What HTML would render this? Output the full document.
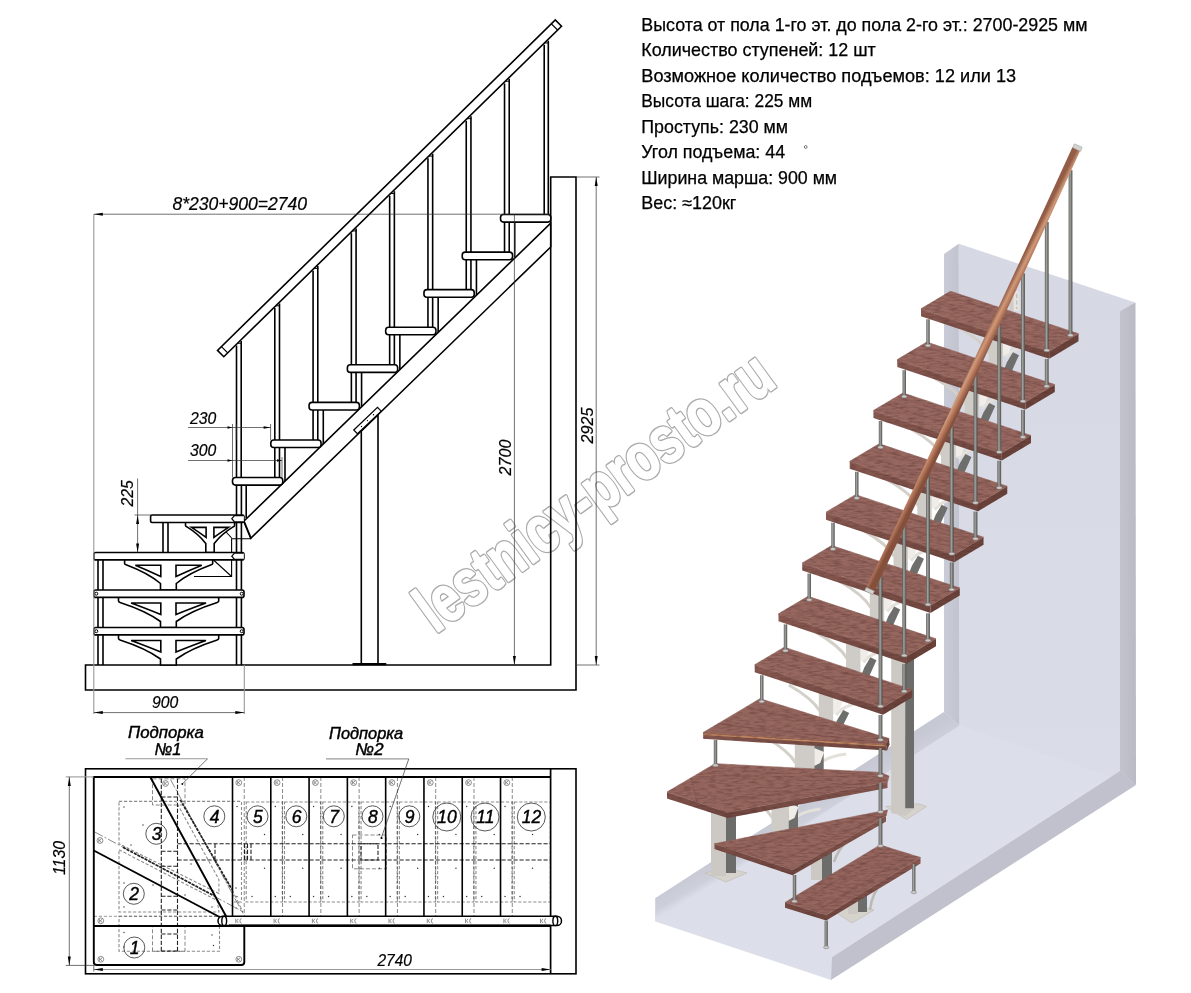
<!DOCTYPE html>
<html lang="ru"><head><meta charset="utf-8"><title>Лестница — чертеж</title>
<style>
html,body{margin:0;padding:0;background:#fff}
body{width:1191px;height:993px;overflow:hidden;font-family:"Liberation Sans",sans-serif}
svg{display:block;opacity:0.999}
.m{stroke:#000;stroke-width:1.6;fill:none;stroke-linejoin:miter;stroke-linecap:butt}
.t{stroke:#333;stroke-width:0.7;fill:none}
.t .g{stroke:#999;stroke-width:1.1}
.gd{stroke:#8c8c8c;stroke-width:1.1;fill:none;stroke-dasharray:3.2 1.8}
.hd{stroke:#3a3a3a;stroke-width:0.6;fill:none;stroke-dasharray:4 2}
.sd{stroke:#222;stroke-width:1.1;fill:none;stroke-dasharray:4.2 1.8}
.pm{stroke:#000;fill:none}
.bolt{stroke:#333;stroke-width:0.55;fill:none}
.num circle{fill:none;stroke:#111;stroke-width:0.7}
.num text{font-family:"Liberation Sans",sans-serif;font-style:italic;font-size:17.5px;fill:#000;stroke:#000;stroke-width:0.4}
.lb{stroke-width:0.45 !important}
.arw polygon,.ar{fill:#000;stroke:none}
.dt text{font-family:"Liberation Sans",sans-serif;font-style:italic;fill:#000;stroke:#000;stroke-width:0.2}
.tb text{font-family:"Liberation Sans",sans-serif;font-size:17.6px;fill:#000;stroke:#000;stroke-width:0.25}
.wm{font-family:"Liberation Sans",sans-serif;font-weight:bold;font-size:66px;stroke-linejoin:round}
.wm1{fill:#ababab;stroke:#ababab;stroke-width:4.3}
.wm2{fill:#fff;stroke:#fff;stroke-width:1.5}
</style></head>
<body>
<svg width="1191" height="993" viewBox="0 0 1191 993">
<rect width="1191" height="993" fill="#fff"/>
<!-- watermark -->
<text class="wm wm1" transform="translate(435.5,634) rotate(-36)" textLength="424" lengthAdjust="spacingAndGlyphs">lestnicy-prosto.ru</text>
<text class="wm wm2" transform="translate(435.5,634) rotate(-36)" textLength="424" lengthAdjust="spacingAndGlyphs">lestnicy-prosto.ru</text>
<!-- render3d -->
<defs>
<linearGradient id="steel" x1="0" x2="1" y1="0" y2="0"><stop offset="0" stop-color="#5c5c5a"/><stop offset="0.4" stop-color="#a2a29f"/><stop offset="0.62" stop-color="#83837f"/><stop offset="1" stop-color="#4a4a48"/></linearGradient>
<linearGradient id="rail" gradientUnits="userSpaceOnUse" x1="968" y1="367" x2="978" y2="372"><stop offset="0" stop-color="#935c47"/><stop offset="0.38" stop-color="#d09a79"/><stop offset="0.65" stop-color="#b5775b"/><stop offset="1" stop-color="#84503c"/></linearGradient>
<linearGradient id="wood" gradientUnits="userSpaceOnUse" x1="700" y1="300" x2="1080" y2="900"><stop offset="0" stop-color="#9a6a62"/><stop offset="0.5" stop-color="#96675f"/><stop offset="1" stop-color="#93635c"/></linearGradient>
<linearGradient id="woodf" x1="0" x2="0" y1="0" y2="1"><stop offset="0" stop-color="#8a5b53"/><stop offset="1" stop-color="#6f463f"/></linearGradient>
<linearGradient id="lband" gradientUnits="userSpaceOnUse" x1="800" y1="805" x2="812" y2="825"><stop offset="0" stop-color="#c6c8d4"/><stop offset="0.7" stop-color="#cdcfdb"/><stop offset="1" stop-color="#dbdde8"/></linearGradient>
<linearGradient id="lstrip" x1="0" x2="1" y1="0" y2="0"><stop offset="0" stop-color="#c9cbd7"/><stop offset="1" stop-color="#c1c3cf"/></linearGradient>
<linearGradient id="rstrip" x1="0" x2="1" y1="0" y2="0"><stop offset="0" stop-color="#c2c3cc"/><stop offset="1" stop-color="#b9bac3"/></linearGradient>
<linearGradient id="wallg" x1="0" x2="0" y1="0" y2="1"><stop offset="0" stop-color="#d6d8e4"/><stop offset="1" stop-color="#dadce7"/></linearGradient>
<filter id="grainf" x="0" y="0" width="1" height="1" color-interpolation-filters="sRGB"><feTurbulence type="fractalNoise" baseFrequency="0.12 0.55" numOctaves="2" seed="7" result="n"/><feColorMatrix in="n" type="matrix" values="0 0 0 0 0.27  0 0 0 0 0.15  0 0 0 0 0.13  0 0 0 0.75 -0.3" result="d"/><feComposite in="d" in2="SourceAlpha" operator="in" result="dd"/><feMerge><feMergeNode in="SourceGraphic"/><feMergeNode in="dd"/></feMerge></filter>
</defs>
<g shape-rendering="geometricPrecision">
<polygon points="959.5,725.6 1120,771 831.7,957.2 831,980 655.3,921.5 655.3,898.2 944,712" fill="#dcdee9"/>
<polygon points="958.7,243.7 1135,302.5 1135,785 959.5,725.6" fill="url(#wallg)"/>
<polygon points="944,712 959.5,725.6 655.3,921.5 655.3,898.2" fill="url(#lband)"/>
<polygon points="944,254 958.75,243.75 959.5,725.6 944,712" fill="url(#lstrip)"/>
<polygon points="1120,311.2 1135.5,302.5 1136,785 1120,771" fill="url(#rstrip)"/>
<polygon points="1120,771 1136,785 831,980 831.7,957.2" fill="#c0c1cc"/>
<polygon points="885.5,806.5 918.5,803.8 926.5,806.5 906.5,819.5" fill="#d6d3cd" stroke="#bdb9b2" stroke-width="0.6"/>
<rect x="891.2" y="655" width="14" height="158" fill="#ccc8c3"/>
<rect x="905.2" y="655" width="8.8" height="153.5" fill="#6c6c6a"/>
<polygon points="891.2,813 905.2,813 905.2,808.5 914,808.5 905.2,816" fill="#ccc8c3"/>
<polygon points="705,873 727,868 747,873 726,882" fill="#d6d3cd" stroke="#bdb9b2" stroke-width="0.6"/>
<rect x="711" y="800" width="15" height="76" fill="#ccc8c3"/>
<rect x="726" y="800" width="10" height="73" fill="#6c6c6a"/>
<polygon points="835,912 855,905 874,910 852,923" fill="#d6d3cd" stroke="#bdb9b2" stroke-width="0.6"/>
<rect x="848" y="880" width="10" height="34" fill="#ccc8c3"/>
<rect x="858" y="880" width="9" height="32" fill="#6c6c6a"/>
<path d="M870,910 Q872,892 884,880" stroke="#bdb9b2" stroke-width="2.5" fill="none"/>
<rect x="811" y="840" width="11" height="40" fill="#ccc8c3"/>
<rect x="822" y="840" width="10" height="40" fill="#6c6c6a"/>
<path d="M834,862 Q838,850 846,842" stroke="#bdb9b2" stroke-width="2.5" fill="none"/>
<path d="M847.05,658.35 Q839.05,645.35 816.05,632.35" stroke="#d3cfc9" stroke-width="3" fill="none"/>
<path d="M863.45,662.35 Q869.45,652.35 892.45,649.35" stroke="#e4e1db" stroke-width="3.2" fill="none"/>
<polygon points="861.45,674.85 869.45,675.85 876.45,660.35 870.45,657.35 864.45,667.35" fill="#6e6e6c"/>
<polygon points="860.45,643.35 870.45,647.35 866.45,658.35 860.45,661.35" fill="#f0ede8"/>
<rect x="846.05" y="639.35" width="14.4" height="39.5" fill="#cfcbc6"/>
<path d="M870.8,607.5 Q862.8,594.5 839.8,581.5" stroke="#d3cfc9" stroke-width="3" fill="none"/>
<path d="M887.2,611.5 Q893.2,601.5 916.2,598.5" stroke="#e4e1db" stroke-width="3.2" fill="none"/>
<polygon points="885.2,624 893.2,625 900.2,609.5 894.2,606.5 888.2,616.5" fill="#6e6e6c"/>
<polygon points="884.2,592.5 894.2,596.5 890.2,607.5 884.2,610.5" fill="#f0ede8"/>
<rect x="869.8" y="588.5" width="14.4" height="39.5" fill="#cfcbc6"/>
<path d="M894.55,556.65 Q886.55,543.65 863.55,530.65" stroke="#d3cfc9" stroke-width="3" fill="none"/>
<path d="M910.95,560.65 Q916.95,550.65 939.95,547.65" stroke="#e4e1db" stroke-width="3.2" fill="none"/>
<polygon points="908.95,573.15 916.95,574.15 923.95,558.65 917.95,555.65 911.95,565.65" fill="#6e6e6c"/>
<polygon points="907.95,541.65 917.95,545.65 913.95,556.65 907.95,559.65" fill="#f0ede8"/>
<rect x="893.55" y="537.65" width="14.4" height="39.5" fill="#cfcbc6"/>
<path d="M918.3,505.8 Q910.3,492.8 887.3,479.8" stroke="#d3cfc9" stroke-width="3" fill="none"/>
<path d="M934.7,509.8 Q940.7,499.8 963.7,496.8" stroke="#e4e1db" stroke-width="3.2" fill="none"/>
<polygon points="932.7,522.3 940.7,523.3 947.7,507.8 941.7,504.8 935.7,514.8" fill="#6e6e6c"/>
<polygon points="931.7,490.8 941.7,494.8 937.7,505.8 931.7,508.8" fill="#f0ede8"/>
<rect x="917.3" y="486.8" width="14.4" height="39.5" fill="#cfcbc6"/>
<path d="M942.05,454.95 Q934.05,441.95 911.05,428.95" stroke="#d3cfc9" stroke-width="3" fill="none"/>
<path d="M958.45,458.95 Q964.45,448.95 987.45,445.95" stroke="#e4e1db" stroke-width="3.2" fill="none"/>
<polygon points="956.45,471.45 964.45,472.45 971.45,456.95 965.45,453.95 959.45,463.95" fill="#6e6e6c"/>
<polygon points="955.45,439.95 965.45,443.95 961.45,454.95 955.45,457.95" fill="#f0ede8"/>
<rect x="941.05" y="435.95" width="14.4" height="39.5" fill="#cfcbc6"/>
<path d="M965.8,404.1 Q957.8,391.1 934.8,378.1" stroke="#d3cfc9" stroke-width="3" fill="none"/>
<path d="M982.2,408.1 Q988.2,398.1 1011.2,395.1" stroke="#e4e1db" stroke-width="3.2" fill="none"/>
<polygon points="980.2,420.6 988.2,421.6 995.2,406.1 989.2,403.1 983.2,413.1" fill="#6e6e6c"/>
<polygon points="979.2,389.1 989.2,393.1 985.2,404.1 979.2,407.1" fill="#f0ede8"/>
<rect x="964.8" y="385.1" width="14.4" height="39.5" fill="#cfcbc6"/>
<path d="M989.55,353.25 Q981.55,340.25 958.55,327.25" stroke="#d3cfc9" stroke-width="3" fill="none"/>
<path d="M1005.95,357.25 Q1011.95,347.25 1034.95,344.25" stroke="#e4e1db" stroke-width="3.2" fill="none"/>
<polygon points="1003.95,369.75 1011.95,370.75 1018.95,355.25 1012.95,352.25 1006.95,362.25" fill="#6e6e6c"/>
<polygon points="1002.95,338.25 1012.95,342.25 1008.95,353.25 1002.95,356.25" fill="#f0ede8"/>
<rect x="988.55" y="334.25" width="14.4" height="39.5" fill="#cfcbc6"/>
<path d="M819.8,711 Q811.8,698 788.8,685" stroke="#d3cfc9" stroke-width="3" fill="none"/>
<path d="M836.2,715 Q842.2,705 865.2,702" stroke="#e4e1db" stroke-width="3.2" fill="none"/>
<polygon points="834.2,726 842.2,727 849.2,713 843.2,710 837.2,720" fill="#6e6e6c"/>
<polygon points="833.2,696 843.2,700 839.2,711 833.2,714" fill="#f0ede8"/>
<rect x="818.8" y="692" width="14.4" height="38" fill="#cfcbc6"/>
<path d="M772.5,818 Q764.5,805 741.5,792" stroke="#d3cfc9" stroke-width="3" fill="none"/>
<path d="M791.5,822 Q797.5,812 820.5,809" stroke="#e4e1db" stroke-width="3.2" fill="none"/>
<rect x="788.5" y="799" width="9.5" height="33" fill="#6e6e6c"/>
<polygon points="788.5,803 798.5,807 794.5,818 788.5,821" fill="#f0ede8"/>
<rect x="771.5" y="799" width="17" height="33" fill="#cfcbc6"/>
<rect x="1009.5" y="291" width="4.2" height="20" fill="#cfcbc6"/>
<rect x="1013.7" y="291" width="5.5" height="20" fill="#e6e3de"/>
<line x1="1016.8" y1="294" x2="1016.8" y2="309" stroke="#a8a49e" stroke-width="0.8" stroke-dasharray="4 2.5"/>
<path d="M795.8,763 Q787.8,750 764.8,737" stroke="#d3cfc9" stroke-width="3" fill="none"/>
<path d="M817.2,767 Q823.2,757 846.2,754" stroke="#e4e1db" stroke-width="3.2" fill="none"/>
<rect x="814.2" y="744" width="9.5" height="30" fill="#6e6e6c"/>
<polygon points="814.2,748 824.2,752 820.2,763 814.2,766" fill="#f0ede8"/>
<rect x="794.8" y="744" width="19.4" height="30" fill="#cfcbc6"/>
<g filter="url(#grainf)">
<polygon points="921,308.75 1049.25,351.25 1049.25,358.75 921,316.25" fill="url(#woodf)"/>
<polygon points="1049.25,351.25 1078.5,333.75 1078.5,341.25 1049.25,358.75" fill="#6b433b"/>
<polygon points="950.5,291.25 1078.5,333.75 1049.25,351.25 921,308.75" fill="url(#wood)" stroke="#93645c" stroke-width="0.6"/>
<line x1="944.6" y1="294.75" x2="1072.65" y2="337.25" stroke="#5e342f" stroke-opacity="0.16" stroke-width="1.6"/><line x1="938.7" y1="298.25" x2="1066.8" y2="340.75" stroke="#a97a70" stroke-opacity="0.16" stroke-width="1.6"/><line x1="932.8" y1="301.75" x2="1060.95" y2="344.25" stroke="#5e342f" stroke-opacity="0.16" stroke-width="1.6"/><line x1="926.9" y1="305.25" x2="1055.1" y2="347.75" stroke="#a97a70" stroke-opacity="0.16" stroke-width="1.6"/>
<line x1="921" y1="309.55" x2="1049.25" y2="352.05" stroke="#9a6a60" stroke-width="1.2" stroke-opacity="0.7"/>
<polygon points="897.25,359.6 1025.5,402.1 1025.5,409.6 897.25,367.1" fill="url(#woodf)"/>
<polygon points="1025.5,402.1 1054.75,384.6 1054.75,392.1 1025.5,409.6" fill="#6b433b"/>
<polygon points="926.75,342.1 1054.75,384.6 1025.5,402.1 897.25,359.6" fill="url(#wood)" stroke="#93645c" stroke-width="0.6"/>
<line x1="920.85" y1="345.6" x2="1048.9" y2="388.1" stroke="#5e342f" stroke-opacity="0.16" stroke-width="1.6"/><line x1="914.95" y1="349.1" x2="1043.05" y2="391.6" stroke="#a97a70" stroke-opacity="0.16" stroke-width="1.6"/><line x1="909.05" y1="352.6" x2="1037.2" y2="395.1" stroke="#5e342f" stroke-opacity="0.16" stroke-width="1.6"/><line x1="903.15" y1="356.1" x2="1031.35" y2="398.6" stroke="#a97a70" stroke-opacity="0.16" stroke-width="1.6"/>
<line x1="897.25" y1="360.4" x2="1025.5" y2="402.9" stroke="#9a6a60" stroke-width="1.2" stroke-opacity="0.7"/>
<polygon points="873.5,410.45 1001.75,452.95 1001.75,460.45 873.5,417.95" fill="url(#woodf)"/>
<polygon points="1001.75,452.95 1031,435.45 1031,442.95 1001.75,460.45" fill="#6b433b"/>
<polygon points="903,392.95 1031,435.45 1001.75,452.95 873.5,410.45" fill="url(#wood)" stroke="#93645c" stroke-width="0.6"/>
<line x1="897.1" y1="396.45" x2="1025.15" y2="438.95" stroke="#5e342f" stroke-opacity="0.16" stroke-width="1.6"/><line x1="891.2" y1="399.95" x2="1019.3" y2="442.45" stroke="#a97a70" stroke-opacity="0.16" stroke-width="1.6"/><line x1="885.3" y1="403.45" x2="1013.45" y2="445.95" stroke="#5e342f" stroke-opacity="0.16" stroke-width="1.6"/><line x1="879.4" y1="406.95" x2="1007.6" y2="449.45" stroke="#a97a70" stroke-opacity="0.16" stroke-width="1.6"/>
<line x1="873.5" y1="411.25" x2="1001.75" y2="453.75" stroke="#9a6a60" stroke-width="1.2" stroke-opacity="0.7"/>
<polygon points="849.75,461.3 978,503.8 978,511.3 849.75,468.8" fill="url(#woodf)"/>
<polygon points="978,503.8 1007.25,486.3 1007.25,493.8 978,511.3" fill="#6b433b"/>
<polygon points="879.25,443.8 1007.25,486.3 978,503.8 849.75,461.3" fill="url(#wood)" stroke="#93645c" stroke-width="0.6"/>
<line x1="873.35" y1="447.3" x2="1001.4" y2="489.8" stroke="#5e342f" stroke-opacity="0.16" stroke-width="1.6"/><line x1="867.45" y1="450.8" x2="995.55" y2="493.3" stroke="#a97a70" stroke-opacity="0.16" stroke-width="1.6"/><line x1="861.55" y1="454.3" x2="989.7" y2="496.8" stroke="#5e342f" stroke-opacity="0.16" stroke-width="1.6"/><line x1="855.65" y1="457.8" x2="983.85" y2="500.3" stroke="#a97a70" stroke-opacity="0.16" stroke-width="1.6"/>
<line x1="849.75" y1="462.1" x2="978" y2="504.6" stroke="#9a6a60" stroke-width="1.2" stroke-opacity="0.7"/>
<polygon points="826,512.15 954.25,554.65 954.25,562.15 826,519.65" fill="url(#woodf)"/>
<polygon points="954.25,554.65 983.5,537.15 983.5,544.65 954.25,562.15" fill="#6b433b"/>
<polygon points="855.5,494.65 983.5,537.15 954.25,554.65 826,512.15" fill="url(#wood)" stroke="#93645c" stroke-width="0.6"/>
<line x1="849.6" y1="498.15" x2="977.65" y2="540.65" stroke="#5e342f" stroke-opacity="0.16" stroke-width="1.6"/><line x1="843.7" y1="501.65" x2="971.8" y2="544.15" stroke="#a97a70" stroke-opacity="0.16" stroke-width="1.6"/><line x1="837.8" y1="505.15" x2="965.95" y2="547.65" stroke="#5e342f" stroke-opacity="0.16" stroke-width="1.6"/><line x1="831.9" y1="508.65" x2="960.1" y2="551.15" stroke="#a97a70" stroke-opacity="0.16" stroke-width="1.6"/>
<line x1="826" y1="512.95" x2="954.25" y2="555.45" stroke="#9a6a60" stroke-width="1.2" stroke-opacity="0.7"/>
<polygon points="802.25,563 930.5,605.5 930.5,613 802.25,570.5" fill="url(#woodf)"/>
<polygon points="930.5,605.5 959.75,588 959.75,595.5 930.5,613" fill="#6b433b"/>
<polygon points="831.75,545.5 959.75,588 930.5,605.5 802.25,563" fill="url(#wood)" stroke="#93645c" stroke-width="0.6"/>
<line x1="825.85" y1="549" x2="953.9" y2="591.5" stroke="#5e342f" stroke-opacity="0.16" stroke-width="1.6"/><line x1="819.95" y1="552.5" x2="948.05" y2="595" stroke="#a97a70" stroke-opacity="0.16" stroke-width="1.6"/><line x1="814.05" y1="556" x2="942.2" y2="598.5" stroke="#5e342f" stroke-opacity="0.16" stroke-width="1.6"/><line x1="808.15" y1="559.5" x2="936.35" y2="602" stroke="#a97a70" stroke-opacity="0.16" stroke-width="1.6"/>
<line x1="802.25" y1="563.8" x2="930.5" y2="606.3" stroke="#9a6a60" stroke-width="1.2" stroke-opacity="0.7"/>
<polygon points="778.5,613.85 906.75,656.35 906.75,663.85 778.5,621.35" fill="url(#woodf)"/>
<polygon points="906.75,656.35 936,638.85 936,646.35 906.75,663.85" fill="#6b433b"/>
<polygon points="808,596.35 936,638.85 906.75,656.35 778.5,613.85" fill="url(#wood)" stroke="#93645c" stroke-width="0.6"/>
<line x1="802.1" y1="599.85" x2="930.15" y2="642.35" stroke="#5e342f" stroke-opacity="0.16" stroke-width="1.6"/><line x1="796.2" y1="603.35" x2="924.3" y2="645.85" stroke="#a97a70" stroke-opacity="0.16" stroke-width="1.6"/><line x1="790.3" y1="606.85" x2="918.45" y2="649.35" stroke="#5e342f" stroke-opacity="0.16" stroke-width="1.6"/><line x1="784.4" y1="610.35" x2="912.6" y2="652.85" stroke="#a97a70" stroke-opacity="0.16" stroke-width="1.6"/>
<line x1="778.5" y1="614.65" x2="906.75" y2="657.15" stroke="#9a6a60" stroke-width="1.2" stroke-opacity="0.7"/>
<polygon points="754.75,664.7 883,707.2 883,714.7 754.75,672.2" fill="url(#woodf)"/>
<polygon points="883,707.2 912.25,689.7 912.25,697.2 883,714.7" fill="#6b433b"/>
<polygon points="784.25,647.2 912.25,689.7 883,707.2 754.75,664.7" fill="url(#wood)" stroke="#93645c" stroke-width="0.6"/>
<line x1="778.35" y1="650.7" x2="906.4" y2="693.2" stroke="#5e342f" stroke-opacity="0.16" stroke-width="1.6"/><line x1="772.45" y1="654.2" x2="900.55" y2="696.7" stroke="#a97a70" stroke-opacity="0.16" stroke-width="1.6"/><line x1="766.55" y1="657.7" x2="894.7" y2="700.2" stroke="#5e342f" stroke-opacity="0.16" stroke-width="1.6"/><line x1="760.65" y1="661.2" x2="888.85" y2="703.7" stroke="#a97a70" stroke-opacity="0.16" stroke-width="1.6"/>
<line x1="754.75" y1="665.5" x2="883" y2="708" stroke="#9a6a60" stroke-width="1.2" stroke-opacity="0.7"/>
<polygon points="703.2,732.5 886,744.5 887,750.5 703.2,738.8" fill="url(#woodf)"/>
<polygon points="760,698.7 889,738.5 886,744.5 703.2,732.5" fill="url(#wood)" stroke="#93645c" stroke-width="0.6"/>
<line x1="745.8" y1="707.15" x2="888.25" y2="740" stroke="#5e342f" stroke-opacity="0.16" stroke-width="1.6"/><line x1="731.6" y1="715.6" x2="887.5" y2="741.5" stroke="#a97a70" stroke-opacity="0.16" stroke-width="1.6"/><line x1="717.4" y1="724.05" x2="886.75" y2="743" stroke="#5e342f" stroke-opacity="0.16" stroke-width="1.6"/>
<polygon points="889,738.5 889.5,744.5 887,750.5 886,744.5" fill="#6b433b"/>
<line x1="703.5" y1="734.2" x2="885.5" y2="745.8" stroke="#c98d63" stroke-width="1.6"/>
<line x1="703.5" y1="732.8" x2="885.5" y2="744.4" stroke="#9e6a5a" stroke-width="1"/>
<polygon points="667,792 727.5,812.5 887.5,782 887.5,788 727.5,818 667,798.5" fill="url(#woodf)"/>
<polygon points="715,763.7 881,772.5 889,776.2 887.5,782 727.5,812.5 667,792" fill="url(#wood)" stroke="#93645c" stroke-width="0.6"/>
<line x1="718.12" y1="775.9" x2="885.62" y2="776" stroke="#5e342f" stroke-opacity="0.16" stroke-width="1.6"/><line x1="721.25" y1="788.1" x2="886.25" y2="778" stroke="#a97a70" stroke-opacity="0.16" stroke-width="1.6"/><line x1="724.38" y1="800.3" x2="886.88" y2="780" stroke="#5e342f" stroke-opacity="0.16" stroke-width="1.6"/>
<line x1="691" y1="777.85" x2="697.25" y2="802.25" stroke="#5e342f" stroke-opacity="0.16" stroke-width="1.6"/>
<polygon points="714.5,843.7 792.5,870 886,816 886,821.5 792.5,875.3 714.5,849" fill="url(#woodf)"/>
<polygon points="714.5,843.7 887.5,810 886,816 792.5,870" fill="url(#wood)" stroke="#93645c" stroke-width="0.6"/>
<line x1="734" y1="850.28" x2="887.12" y2="811.5" stroke="#5e342f" stroke-opacity="0.16" stroke-width="1.6"/><line x1="753.5" y1="856.85" x2="886.75" y2="813" stroke="#a97a70" stroke-opacity="0.16" stroke-width="1.6"/><line x1="773" y1="863.42" x2="886.38" y2="814.5" stroke="#5e342f" stroke-opacity="0.16" stroke-width="1.6"/>
<polygon points="785,902.5 826.2,915 920.5,857.5 920.5,863.5 826.2,920.5 785,907.8" fill="url(#woodf)"/>
<polygon points="880,845 920.5,857.5 826.2,915 785,902.5" fill="url(#wood)" stroke="#93645c" stroke-width="0.6"/>
<line x1="890.12" y1="848.12" x2="795.3" y2="905.62" stroke="#5e342f" stroke-opacity="0.16" stroke-width="1.6"/><line x1="900.25" y1="851.25" x2="805.6" y2="908.75" stroke="#a97a70" stroke-opacity="0.16" stroke-width="1.6"/><line x1="910.38" y1="854.38" x2="815.9" y2="911.88" stroke="#5e342f" stroke-opacity="0.16" stroke-width="1.6"/>
</g>
<rect x="926.3" y="319.25" width="3.4" height="26" fill="url(#steel)"/>
<ellipse cx="928" cy="345.55" rx="2.8" ry="1.5" fill="#c9c9c6" stroke="#77777a" stroke-width="0.5"/>
<rect x="902.55" y="370.1" width="3.4" height="26" fill="url(#steel)"/>
<ellipse cx="904.25" cy="396.4" rx="2.8" ry="1.5" fill="#c9c9c6" stroke="#77777a" stroke-width="0.5"/>
<rect x="878.8" y="420.95" width="3.4" height="26" fill="url(#steel)"/>
<ellipse cx="880.5" cy="447.25" rx="2.8" ry="1.5" fill="#c9c9c6" stroke="#77777a" stroke-width="0.5"/>
<rect x="855.05" y="471.8" width="3.4" height="26" fill="url(#steel)"/>
<ellipse cx="856.75" cy="498.1" rx="2.8" ry="1.5" fill="#c9c9c6" stroke="#77777a" stroke-width="0.5"/>
<rect x="831.3" y="522.65" width="3.4" height="26" fill="url(#steel)"/>
<ellipse cx="833" cy="548.95" rx="2.8" ry="1.5" fill="#c9c9c6" stroke="#77777a" stroke-width="0.5"/>
<rect x="807.55" y="573.5" width="3.4" height="26" fill="url(#steel)"/>
<ellipse cx="809.25" cy="599.8" rx="2.8" ry="1.5" fill="#c9c9c6" stroke="#77777a" stroke-width="0.5"/>
<rect x="783.8" y="624.35" width="3.4" height="26" fill="url(#steel)"/>
<ellipse cx="785.5" cy="650.65" rx="2.8" ry="1.5" fill="#c9c9c6" stroke="#77777a" stroke-width="0.5"/>
<rect x="760.05" y="675.2" width="3.4" height="26" fill="url(#steel)"/>
<ellipse cx="761.75" cy="701.5" rx="2.8" ry="1.5" fill="#c9c9c6" stroke="#77777a" stroke-width="0.5"/>
<rect x="713.8" y="740" width="3.4" height="25" fill="url(#steel)"/>
<ellipse cx="715.5" cy="765.3" rx="2.8" ry="1.5" fill="#c9c9c6" stroke="#77777a" stroke-width="0.5"/>
<rect x="792.8" y="875" width="3.4" height="26" fill="url(#steel)"/>
<ellipse cx="794.5" cy="901.3" rx="2.8" ry="1.5" fill="#c9c9c6" stroke="#77777a" stroke-width="0.5"/>
<rect x="824.6" y="920.5" width="3.2" height="26.5" fill="url(#steel)"/>
<ellipse cx="826.2" cy="947.3" rx="2.7" ry="1.5" fill="#c9c9c6" stroke="#77777a" stroke-width="0.5"/>
<rect x="912.2" y="864" width="3.2" height="28" fill="url(#steel)"/>
<ellipse cx="913.8" cy="892.3" rx="2.7" ry="1.5" fill="#c9c9c6" stroke="#77777a" stroke-width="0.5"/>
<rect x="1068.6" y="170.19" width="3.8" height="164.81" fill="url(#steel)"/>
<ellipse cx="1070.5" cy="335.2" rx="2.9" ry="1.5" fill="#c9c9c6" stroke="#77777a" stroke-width="0.5"/>
<rect x="1044.85" y="221.96" width="3.8" height="128.04" fill="url(#steel)"/>
<ellipse cx="1046.75" cy="350.3" rx="2.9" ry="1.5" fill="#c9c9c6" stroke="#77777a" stroke-width="0.5"/>
<rect x="1044.85" y="359" width="3.8" height="26.85" fill="url(#steel)"/>
<ellipse cx="1046.75" cy="386.15" rx="2.9" ry="1.5" fill="#c9c9c6" stroke="#77777a" stroke-width="0.5"/>
<rect x="1021.1" y="273.45" width="3.8" height="127.4" fill="url(#steel)"/>
<ellipse cx="1023" cy="401.15" rx="2.9" ry="1.5" fill="#c9c9c6" stroke="#77777a" stroke-width="0.5"/>
<rect x="1021.1" y="409.85" width="3.8" height="26.85" fill="url(#steel)"/>
<ellipse cx="1023" cy="437" rx="2.9" ry="1.5" fill="#c9c9c6" stroke="#77777a" stroke-width="0.5"/>
<rect x="997.35" y="324.64" width="3.8" height="127.06" fill="url(#steel)"/>
<ellipse cx="999.25" cy="452" rx="2.9" ry="1.5" fill="#c9c9c6" stroke="#77777a" stroke-width="0.5"/>
<rect x="997.35" y="460.7" width="3.8" height="26.85" fill="url(#steel)"/>
<ellipse cx="999.25" cy="487.85" rx="2.9" ry="1.5" fill="#c9c9c6" stroke="#77777a" stroke-width="0.5"/>
<rect x="973.6" y="375.56" width="3.8" height="126.99" fill="url(#steel)"/>
<ellipse cx="975.5" cy="502.85" rx="2.9" ry="1.5" fill="#c9c9c6" stroke="#77777a" stroke-width="0.5"/>
<rect x="973.6" y="511.55" width="3.8" height="26.85" fill="url(#steel)"/>
<ellipse cx="975.5" cy="538.7" rx="2.9" ry="1.5" fill="#c9c9c6" stroke="#77777a" stroke-width="0.5"/>
<rect x="949.85" y="426.2" width="3.8" height="127.2" fill="url(#steel)"/>
<ellipse cx="951.75" cy="553.7" rx="2.9" ry="1.5" fill="#c9c9c6" stroke="#77777a" stroke-width="0.5"/>
<rect x="949.85" y="562.4" width="3.8" height="26.85" fill="url(#steel)"/>
<ellipse cx="951.75" cy="589.55" rx="2.9" ry="1.5" fill="#c9c9c6" stroke="#77777a" stroke-width="0.5"/>
<rect x="926.1" y="476.56" width="3.8" height="127.69" fill="url(#steel)"/>
<ellipse cx="928" cy="604.55" rx="2.9" ry="1.5" fill="#c9c9c6" stroke="#77777a" stroke-width="0.5"/>
<rect x="926.1" y="613.25" width="3.8" height="26.85" fill="url(#steel)"/>
<ellipse cx="928" cy="640.4" rx="2.9" ry="1.5" fill="#c9c9c6" stroke="#77777a" stroke-width="0.5"/>
<rect x="902.35" y="526.66" width="3.8" height="128.44" fill="url(#steel)"/>
<ellipse cx="904.25" cy="655.4" rx="2.9" ry="1.5" fill="#c9c9c6" stroke="#77777a" stroke-width="0.5"/>
<rect x="902.35" y="664.1" width="3.8" height="26.85" fill="url(#steel)"/>
<ellipse cx="904.25" cy="691.25" rx="2.9" ry="1.5" fill="#c9c9c6" stroke="#77777a" stroke-width="0.5"/>
<rect x="878.6" y="576.48" width="3.8" height="129.47" fill="url(#steel)"/>
<ellipse cx="880.5" cy="706.25" rx="2.9" ry="1.5" fill="#c9c9c6" stroke="#77777a" stroke-width="0.5"/>
<rect x="878.6" y="715" width="3.8" height="24.5" fill="url(#steel)"/>
<ellipse cx="880.5" cy="739.8" rx="2.9" ry="1.5" fill="#c9c9c6" stroke="#77777a" stroke-width="0.5"/>
<rect x="878.6" y="748" width="3.8" height="27.5" fill="url(#steel)"/>
<ellipse cx="880.5" cy="775.8" rx="2.9" ry="1.5" fill="#c9c9c6" stroke="#77777a" stroke-width="0.5"/>
<rect x="878.6" y="783" width="3.8" height="28.5" fill="url(#steel)"/>
<ellipse cx="880.5" cy="811.8" rx="2.9" ry="1.5" fill="#c9c9c6" stroke="#77777a" stroke-width="0.5"/>
<rect x="878.6" y="818" width="3.8" height="27.5" fill="url(#steel)"/>
<ellipse cx="880.5" cy="845.8" rx="2.9" ry="1.5" fill="#c9c9c6" stroke="#77777a" stroke-width="0.5"/>
<path d="M1076.3,149 Q975.3,370.1 870.3,589.3" stroke="url(#rail)" stroke-width="8.6" fill="none"/>
<polygon points="1072.6,147.6 1074.4,143.8 1082.2,147.2 1080.6,151.4" fill="#d2d2d0" stroke="#9a9a98" stroke-width="0.5"/>
<polygon points="866.2,587.2 874.4,591 872.8,594.6 864.6,590.8" fill="#d2d2d0" stroke="#8a8a88" stroke-width="0.5"/>
</g>
<!-- textblock -->
<g class="tb">
<text x="641.3" y="30.7" textLength="446.2" lengthAdjust="spacingAndGlyphs">Высота от пола 1-го эт. до пола 2-го эт.: 2700-2925 мм</text>
<text x="641.3" y="56.2" textLength="234.5" lengthAdjust="spacingAndGlyphs">Количество ступеней: 12 шт</text>
<text x="641.3" y="81.7" textLength="374.8" lengthAdjust="spacingAndGlyphs">Возможное количество подъемов: 12 или 13</text>
<text x="641.3" y="107.4" textLength="170.8" lengthAdjust="spacingAndGlyphs">Высота шага: 225 мм</text>
<text x="641.3" y="132.6" textLength="146.8" lengthAdjust="spacingAndGlyphs">Проступь: 230 мм</text>
<text x="641.3" y="158" textLength="143.8" lengthAdjust="spacingAndGlyphs">Угол подъема: 44</text>
<text x="641.3" y="183.7" textLength="195.8" lengthAdjust="spacingAndGlyphs">Ширина марша: 900 мм</text>
<text x="641.3" y="209.2" textLength="95" lengthAdjust="spacingAndGlyphs">Вес: ≈120кг</text>
<circle cx="805.7" cy="147" r="1.4" fill="none" stroke="#222" stroke-width="0.6"/>
</g>
<!-- side -->
<g class="m">
<path d="M85.5,665H550.7V177H576V690H85.5Z"/>
<polygon points="361.3,430.9 361.3,664.3 378,664.3 378,414.68" fill="#fff"/>
<line x1="352.5" y1="664.2" x2="386.3" y2="664.2" stroke-width="2.2"/>
<line x1="236.5" y1="345.49" x2="236.5" y2="477.5"/>
<line x1="241.2" y1="340.89" x2="241.2" y2="477.5"/>
<line x1="235.9" y1="343.24" x2="241.8" y2="343.24" stroke-width="1"/>
<line x1="274.79" y1="308.06" x2="274.79" y2="439.93"/>
<line x1="279.49" y1="303.46" x2="279.49" y2="439.93"/>
<line x1="274.19" y1="305.81" x2="280.09" y2="305.81" stroke-width="1"/>
<line x1="274.79" y1="447.43" x2="274.79" y2="477.5"/>
<line x1="279.49" y1="447.43" x2="279.49" y2="477.5"/>
<line x1="284.99" y1="447.43" x2="284.99" y2="481.2"/>
<line x1="313.08" y1="270.63" x2="313.08" y2="402.36"/>
<line x1="317.78" y1="266.03" x2="317.78" y2="402.36"/>
<line x1="312.48" y1="268.38" x2="318.38" y2="268.38" stroke-width="1"/>
<line x1="313.08" y1="409.86" x2="313.08" y2="439.93"/>
<line x1="317.78" y1="409.86" x2="317.78" y2="439.93"/>
<line x1="323.28" y1="409.86" x2="323.28" y2="444.02"/>
<line x1="351.37" y1="233.2" x2="351.37" y2="364.79"/>
<line x1="356.07" y1="228.61" x2="356.07" y2="364.79"/>
<line x1="350.77" y1="230.95" x2="356.67" y2="230.95" stroke-width="1"/>
<line x1="351.37" y1="372.29" x2="351.37" y2="402.36"/>
<line x1="356.07" y1="372.29" x2="356.07" y2="402.36"/>
<line x1="361.57" y1="372.29" x2="361.57" y2="406.84"/>
<line x1="389.66" y1="195.77" x2="389.66" y2="327.22"/>
<line x1="394.36" y1="191.18" x2="394.36" y2="327.22"/>
<line x1="389.06" y1="193.52" x2="394.96" y2="193.52" stroke-width="1"/>
<line x1="389.66" y1="334.72" x2="389.66" y2="364.79"/>
<line x1="394.36" y1="334.72" x2="394.36" y2="364.79"/>
<line x1="399.86" y1="334.72" x2="399.86" y2="369.66"/>
<line x1="427.95" y1="158.34" x2="427.95" y2="289.65"/>
<line x1="432.65" y1="153.75" x2="432.65" y2="289.65"/>
<line x1="427.35" y1="156.1" x2="433.25" y2="156.1" stroke-width="1"/>
<line x1="427.95" y1="297.15" x2="427.95" y2="327.22"/>
<line x1="432.65" y1="297.15" x2="432.65" y2="327.22"/>
<line x1="438.15" y1="297.15" x2="438.15" y2="332.48"/>
<line x1="466.24" y1="120.91" x2="466.24" y2="252.08"/>
<line x1="470.94" y1="116.32" x2="470.94" y2="252.08"/>
<line x1="465.64" y1="118.67" x2="471.54" y2="118.67" stroke-width="1"/>
<line x1="466.24" y1="259.58" x2="466.24" y2="289.65"/>
<line x1="470.94" y1="259.58" x2="470.94" y2="289.65"/>
<line x1="476.44" y1="259.58" x2="476.44" y2="295.3"/>
<line x1="504.53" y1="83.49" x2="504.53" y2="214.51"/>
<line x1="509.23" y1="78.89" x2="509.23" y2="214.51"/>
<line x1="503.93" y1="81.24" x2="509.83" y2="81.24" stroke-width="1"/>
<line x1="504.53" y1="222.01" x2="504.53" y2="252.08"/>
<line x1="509.23" y1="222.01" x2="509.23" y2="252.08"/>
<line x1="514.73" y1="222.01" x2="514.73" y2="258.12"/>
<line x1="544.2" y1="44.71" x2="544.2" y2="214.5"/>
<line x1="548.3" y1="40.7" x2="548.3" y2="214.5"/>
<line x1="543.6" y1="42.95" x2="548.9" y2="42.95" stroke-width="1"/>
<polygon points="244,521 550.7,223.19 550.7,246.99 251,538" fill="#fff"/>
<polygon points="353.8,430 377.5,407.3 381.2,411.2 357.5,433.8" fill="#fff" stroke-width="1.2"/>
<circle cx="361.5" cy="426.5" r="0.7" fill="#000" stroke="none"/><circle cx="367.5" cy="420.6" r="0.7" fill="#000" stroke="none"/><circle cx="373.5" cy="414.8" r="0.7" fill="#000" stroke="none"/>
<rect x="232.5" y="477.5" width="50.3" height="7.6" rx="3" fill="#fff"/>
<line x1="244" y1="485.1" x2="244" y2="477.7" stroke-width="0.6" stroke-opacity="0"/>
<rect x="270.79" y="439.93" width="50.3" height="7.6" rx="3" fill="#fff"/>
<line x1="282.29" y1="447.53" x2="282.29" y2="440.13" stroke-width="0.6" stroke-opacity="0"/>
<rect x="309.08" y="402.36" width="50.3" height="7.6" rx="3" fill="#fff"/>
<line x1="320.58" y1="409.96" x2="320.58" y2="402.56" stroke-width="0.6" stroke-opacity="0"/>
<rect x="347.37" y="364.79" width="50.3" height="7.6" rx="3" fill="#fff"/>
<line x1="358.87" y1="372.39" x2="358.87" y2="364.99" stroke-width="0.6" stroke-opacity="0"/>
<rect x="385.66" y="327.22" width="50.3" height="7.6" rx="3" fill="#fff"/>
<line x1="397.16" y1="334.82" x2="397.16" y2="327.42" stroke-width="0.6" stroke-opacity="0"/>
<rect x="423.95" y="289.65" width="50.3" height="7.6" rx="3" fill="#fff"/>
<line x1="435.45" y1="297.25" x2="435.45" y2="289.85" stroke-width="0.6" stroke-opacity="0"/>
<rect x="462.24" y="252.08" width="50.3" height="7.6" rx="3" fill="#fff"/>
<line x1="473.74" y1="259.68" x2="473.74" y2="252.28" stroke-width="0.6" stroke-opacity="0"/>
<rect x="500.53" y="214.51" width="50.3" height="7.6" rx="3" fill="#fff"/>
<line x1="512.03" y1="222.11" x2="512.03" y2="214.71" stroke-width="0.6" stroke-opacity="0"/>
<polygon points="217.5,350.4 223.8,356.7 561.5,26.2 555.3,20" fill="#fff"/>
<line x1="221.4" y1="346.6" x2="227.7" y2="352.9" stroke-width="1.2"/>
<line x1="551.4" y1="23.8" x2="557.6" y2="30" stroke-width="1.2"/>
<line x1="246.2" y1="485" x2="246.2" y2="518"/>
<line x1="236.5" y1="485" x2="236.5" y2="665"/>
<line x1="241.4" y1="485" x2="241.4" y2="665"/>
<line x1="98" y1="560" x2="98" y2="665"/>
<line x1="103" y1="560" x2="103" y2="665"/>
<line x1="163" y1="522.5" x2="163" y2="552.5"/>
<line x1="168" y1="522.5" x2="168" y2="552.5"/>
<polyline points="244,522.5 250.7,538.8 231.6,538.8 231.6,552.5" fill="none" stroke-width="1.1"/>
<polyline points="222.5,528 231.6,538" fill="none" stroke-width="1.1"/>
<polyline points="194,576.5 231.6,576.5 231.6,560" fill="none" stroke-width="1.1"/>
<line x1="213.5" y1="560" x2="231.6" y2="576.5" stroke-width="1.1"/>
</g>
<g class="m" stroke-width="1.5">
<path d="M185.5,522.5 V525.5 Q185.5,526.5 187,526.9 Q198.7,534.15 205.8,543.5 V552.5 H214.2 V543.5 Q221.34,534.15 233.1,526.9 Q234.6,526.5 234.6,525.5 V522.5" fill="#fff"/>
<path d="M191.59,527.4 H206.1 V537.38 Q197.98,531.59 191.59,527.4Z" fill="#fff"/>
<path d="M228.48,527.4 H213.9 V537.38 Q222.05,531.59 228.48,527.4Z" fill="#fff"/>
<path d="M124.6,560 V563.4 Q124.6,564.4 126.1,564.8 Q147.94,573 160.5,583.5 V590 H176.3 V583.5 Q189.04,573 211.2,564.8 Q212.7,564.4 212.7,563.4 V560" fill="#fff"/>
<path d="M135.37,565.3 H160.8 V576.58 Q146.68,570.04 135.37,565.3Z" fill="#fff"/>
<path d="M201.78,565.3 H176 V576.58 Q190.31,570.04 201.78,565.3Z" fill="#fff"/>
<path d="M118.5,597.5 V601.1 Q118.5,602.1 120,602.5 Q145.8,610.83 160.5,621.5 V627.5 H176.3 V621.5 Q191.14,610.83 217.2,602.5 Q218.7,602.1 218.7,601.1 V597.5" fill="#fff"/>
<path d="M131.1,603 H160.8 V614.47 Q144.33,607.82 131.1,603Z" fill="#fff"/>
<path d="M205.98,603 H176 V614.47 Q192.62,607.82 205.98,603Z" fill="#fff"/>
<path d="M118.5,635 V638.6 Q118.5,639.6 120,640 Q145.8,648.33 160.5,659 V665 H176.3 V659 Q191.14,648.33 217.2,640 Q218.7,639.6 218.7,638.6 V635" fill="#fff"/>
<path d="M131.1,640.5 H160.8 V651.97 Q144.33,645.32 131.1,640.5Z" fill="#fff"/>
<path d="M205.98,640.5 H176 V651.97 Q192.62,645.32 205.98,640.5Z" fill="#fff"/>
</g>
<g class="m">
<rect x="150.6" y="515" width="93.4" height="7.5" rx="1.5" fill="#fff"/>
<path d="M243.8,515.6 H234.5 L231.8,518.7 L234.5,521.9 H243.8" fill="#fff" stroke-width="1.2"/>
<rect x="93.8" y="552.5" width="150.2" height="7.4" rx="2" fill="#fff"/>
<rect x="93.8" y="590" width="150.2" height="7.4" rx="2" fill="#fff"/>
<rect x="93.8" y="627.5" width="150.2" height="7.4" rx="2" fill="#fff"/>
<path d="M243.8,553.1 H234.5 L231.8,556.2 L234.5,559.4 H243.8" fill="#fff" stroke-width="1.2"/>
<circle cx="96.3" cy="593.7" r="1.5" fill="#fff" stroke-width="1"/><circle cx="241.7" cy="593.7" r="1.5" fill="#fff" stroke-width="1"/>
<circle cx="96.3" cy="631.2" r="1.5" fill="#fff" stroke-width="1"/><circle cx="241.7" cy="631.2" r="1.5" fill="#fff" stroke-width="1"/>
</g>
<g class="t">
<line x1="93.8" y1="214.2" x2="93.8" y2="714" class="g"/>
<line x1="93.8" y1="214.2" x2="550" y2="214.2"/>
<line x1="514.4" y1="214.5" x2="514.4" y2="665"/>
<line x1="596.2" y1="177" x2="596.2" y2="665"/>
<line x1="576" y1="177" x2="599.5" y2="177"/>
<line x1="576" y1="665" x2="599.5" y2="665"/>
<line x1="244.3" y1="665" x2="244.3" y2="714" class="g"/>
<line x1="93.8" y1="712.6" x2="244.3" y2="712.6"/>
<line x1="137.6" y1="478.5" x2="137.6" y2="552.5"/>
<line x1="134.5" y1="515" x2="150.5" y2="515"/>
<line x1="188" y1="427.5" x2="270.6" y2="427.5"/>
<line x1="188" y1="460.5" x2="282" y2="460.5"/>
<line x1="232.5" y1="424" x2="232.5" y2="477.5"/>
<line x1="236.3" y1="424" x2="236.3" y2="440"/>
<line x1="270.6" y1="424" x2="270.6" y2="440"/>
<line x1="282" y1="457" x2="282" y2="477.5"/>
</g>
<g class="arw">
<polygon points="93.8,214.2 102.8,212.7 102.8,215.7" class="ar"/>
<polygon points="514.4,665 512.9,656 515.9,656" class="ar"/>
<polygon points="596.2,665 594.7,656 597.7,656" class="ar"/>
<polygon points="596.2,177 597.7,186 594.7,186" class="ar"/>
<polygon points="93.8,712.6 102.8,711.1 102.8,714.1" class="ar"/>
<polygon points="244.3,712.6 235.3,714.1 235.3,711.1" class="ar"/>
<polygon points="137.6,515 139.1,524 136.1,524" class="ar"/>
<polygon points="137.6,552.5 136.1,543.5 139.1,543.5" class="ar"/>
<polygon points="270.6,427.5 263.6,428.8 263.6,426.2" class="ar"/>
<polygon points="232.5,427.5 227.5,428.7 227.5,426.3" class="ar"/>
<polygon points="282,460.5 277,461.7 277,459.3" class="ar"/>
<polygon points="232.5,460.5 227.5,461.7 227.5,459.3" class="ar"/>
</g>
<g class="dt">
<text x="172.4" y="210.4" font-size="17.5" textLength="134.7" lengthAdjust="spacingAndGlyphs">8*230+900=2740</text>
<text x="190" y="423.8" font-size="15.7" textLength="26.3" lengthAdjust="spacingAndGlyphs">230</text>
<text x="190" y="456.3" font-size="15.7" textLength="26.3" lengthAdjust="spacingAndGlyphs">300</text>
<text x="152" y="707.6" font-size="15.7" textLength="26.3" lengthAdjust="spacingAndGlyphs">900</text>
<text transform="translate(133.2,506.5) rotate(-90)" font-size="15.7" textLength="26.3" lengthAdjust="spacingAndGlyphs">225</text>
<text transform="translate(510.6,475.4) rotate(-90)" font-size="15.7" textLength="36" lengthAdjust="spacingAndGlyphs">2700</text>
<text transform="translate(593.2,443.6) rotate(-90)" font-size="15.7" textLength="36" lengthAdjust="spacingAndGlyphs">2925</text>
</g>
<!-- plan -->
<g class="gd">
<polygon points="119,801.4 176,801.4 218.9,879.6 218.9,893.5 119,843.8"/>
<polygon points="119,849.8 217.3,900.5 219,912 119,912"/>
<polyline points="182,801.4 241.5,801.4 241.5,902 234,902"/>
<line x1="184" y1="806" x2="233" y2="892"/>
<rect x="119" y="916.2" width="100.5" height="35"/>
<line x1="93.8" y1="916.3" x2="219.5" y2="916.3" stroke="#555" stroke-width="0.6"/>
<rect x="246.2" y="802" width="36.1" height="100"/>
<rect x="284.49" y="802" width="36.1" height="100"/>
<rect x="322.78" y="802" width="36.1" height="100"/>
<rect x="361.07" y="802" width="36.1" height="100"/>
<rect x="399.36" y="802" width="36.1" height="100"/>
<rect x="437.65" y="802" width="36.1" height="100"/>
<rect x="475.94" y="802" width="36.1" height="100"/>
<rect x="514.23" y="802" width="36.1" height="100"/>
</g>
<g class="hd">
<line x1="244.25" y1="777" x2="244.25" y2="925.8"/>
<line x1="282.54" y1="777" x2="282.54" y2="925.8"/>
<line x1="320.83" y1="777" x2="320.83" y2="925.8"/>
<line x1="359.12" y1="777" x2="359.12" y2="925.8"/>
<line x1="397.41" y1="777" x2="397.41" y2="925.8"/>
<line x1="435.7" y1="777" x2="435.7" y2="925.8"/>
<line x1="473.99" y1="777" x2="473.99" y2="925.8"/>
<line x1="512.28" y1="777" x2="512.28" y2="925.8"/>
<line x1="94.8" y1="832" x2="243" y2="911.8" stroke-dasharray="9 2 2 2"/>
<line x1="170.6" y1="779.7" x2="243" y2="913.4" stroke-dasharray="9 2 2 2"/>
<line x1="123" y1="847.3" x2="214" y2="895.7" stroke="#222" stroke-width="1.7" stroke-dasharray="3 1.1"/>
<line x1="180.2" y1="799.8" x2="231.8" y2="889.2" stroke="#222" stroke-width="1.7" stroke-dasharray="3 1.1"/>
<line x1="231.8" y1="889.2" x2="243" y2="912"/>
<rect x="152.5" y="778.8" width="32.5" height="26.2"/>
<rect x="152.5" y="926.3" width="32.5" height="25"/>
<rect x="352.5" y="835" width="33.8" height="33.8"/>
</g>
<g class="sd">
<line x1="177.5" y1="843.8" x2="550" y2="843.8"/>
<line x1="177.5" y1="860" x2="550" y2="860"/>
<line x1="161.3" y1="778.8" x2="161.3" y2="951.3"/>
<line x1="177.5" y1="778.8" x2="177.5" y2="951.3"/>
<line x1="161.3" y1="797" x2="177.5" y2="797"/>
<line x1="161.3" y1="851.3" x2="177.5" y2="851.3"/>
<line x1="161.3" y1="866.3" x2="177.5" y2="866.3"/>
<line x1="161.3" y1="896.3" x2="177.5" y2="896.3"/>
<line x1="161.3" y1="910" x2="177.5" y2="910"/>
<line x1="161.3" y1="934" x2="177.5" y2="934"/>
<line x1="215" y1="843.8" x2="215" y2="860"/>
<line x1="232.5" y1="843.8" x2="232.5" y2="860"/>
<line x1="244.5" y1="843.8" x2="244.5" y2="860"/>
<line x1="247.5" y1="843.8" x2="247.5" y2="860"/>
<line x1="251" y1="843.8" x2="251" y2="860"/>
<rect x="361" y="843.8" width="17" height="16.2"/>
<line x1="161.3" y1="951" x2="177.5" y2="951"/>
</g>
<g class="pm">
<rect x="85.5" y="768.8" width="490.5" height="205" stroke-width="1.6"/>
<line x1="550.6" y1="768.8" x2="550.6" y2="973.8" stroke-width="1.7"/>
<path d="M550.6,777.0 H93.8 V962 Q93.8,965 96.8,965 H241.3 Q244.3,965 244.3,962 V926" stroke-width="1.9"/>
<line x1="93.8" y1="926" x2="550.6" y2="926" stroke-width="2"/>
<line x1="232.5" y1="777" x2="232.5" y2="925.8" stroke-width="1.6"/>
<line x1="270.79" y1="777" x2="270.79" y2="925.8" stroke-width="1.6"/>
<line x1="309.08" y1="777" x2="309.08" y2="925.8" stroke-width="1.6"/>
<line x1="347.37" y1="777" x2="347.37" y2="925.8" stroke-width="1.6"/>
<line x1="385.66" y1="777" x2="385.66" y2="925.8" stroke-width="1.6"/>
<line x1="423.95" y1="777" x2="423.95" y2="925.8" stroke-width="1.6"/>
<line x1="462.24" y1="777" x2="462.24" y2="925.8" stroke-width="1.6"/>
<line x1="500.53" y1="777" x2="500.53" y2="925.8" stroke-width="1.6"/>
<line x1="93.8" y1="850.5" x2="220.5" y2="917.5" stroke-width="1.9"/>
<line x1="150.5" y1="777.5" x2="227" y2="918" stroke-width="1.9"/>
<rect x="218" y="916.3" width="343.5" height="9.3" rx="4.6" fill="#fff" stroke-width="1.5"/>
<ellipse cx="224.2" cy="920.9" rx="2.4" ry="4.6" fill="#fff" stroke-width="1.4"/>
<ellipse cx="555.3" cy="920.9" rx="2.4" ry="4.6" fill="#fff" stroke-width="1.4"/>
<line x1="229" y1="925.6" x2="550.6" y2="925.6" stroke-width="2"/>
</g>
<g class="bolt">
<circle cx="238.8" cy="782.6" r="2.9"/><path d="M237.6,781V784.2M240.1,781.1L238.2,782.6L240.1,784.1"/>
<path d="M235.8,918.6V923.2M238.3,918.8l-1.6,2.1l1.6,2.1M241.5,918.6a1.6,2.3 0 1 0 0,4.6"/>
<circle cx="277.09" cy="782.6" r="2.9"/><path d="M275.89,781V784.2M278.39,781.1L276.49,782.6L278.39,784.1"/>
<path d="M274.09,918.6V923.2M276.59,918.8l-1.6,2.1l1.6,2.1M279.79,918.6a1.6,2.3 0 1 0 0,4.6"/>
<circle cx="315.38" cy="782.6" r="2.9"/><path d="M314.18,781V784.2M316.68,781.1L314.78,782.6L316.68,784.1"/>
<path d="M312.38,918.6V923.2M314.88,918.8l-1.6,2.1l1.6,2.1M318.08,918.6a1.6,2.3 0 1 0 0,4.6"/>
<circle cx="353.67" cy="782.6" r="2.9"/><path d="M352.47,781V784.2M354.97,781.1L353.07,782.6L354.97,784.1"/>
<path d="M350.67,918.6V923.2M353.17,918.8l-1.6,2.1l1.6,2.1M356.37,918.6a1.6,2.3 0 1 0 0,4.6"/>
<circle cx="391.96" cy="782.6" r="2.9"/><path d="M390.76,781V784.2M393.26,781.1L391.36,782.6L393.26,784.1"/>
<path d="M388.96,918.6V923.2M391.46,918.8l-1.6,2.1l1.6,2.1M394.66,918.6a1.6,2.3 0 1 0 0,4.6"/>
<circle cx="430.25" cy="782.6" r="2.9"/><path d="M429.05,781V784.2M431.55,781.1L429.65,782.6L431.55,784.1"/>
<path d="M427.25,918.6V923.2M429.75,918.8l-1.6,2.1l1.6,2.1M432.95,918.6a1.6,2.3 0 1 0 0,4.6"/>
<circle cx="468.54" cy="782.6" r="2.9"/><path d="M467.34,781V784.2M469.84,781.1L467.94,782.6L469.84,784.1"/>
<path d="M465.54,918.6V923.2M468.04,918.8l-1.6,2.1l1.6,2.1M471.24,918.6a1.6,2.3 0 1 0 0,4.6"/>
<circle cx="506.83" cy="782.6" r="2.9"/><path d="M505.63,781V784.2M508.13,781.1L506.23,782.6L508.13,784.1"/>
<path d="M503.83,918.6V923.2M506.33,918.8l-1.6,2.1l1.6,2.1M509.53,918.6a1.6,2.3 0 1 0 0,4.6"/>
<path d="M540.5,918.6V923.2M543,918.8l-1.6,2.1l1.6,2.1M546.2,918.6a1.6,2.3 0 1 0 0,4.6"/>
<circle cx="100" cy="840.5" r="2.9"/><path d="M98.8,838.9V842.1M101.3,839L99.4,840.5L101.3,842"/>
<circle cx="100.8" cy="920.8" r="2.9"/><path d="M99.6,919.2V922.4M102.1,919.3L100.2,920.8L102.1,922.3"/>
<circle cx="100.8" cy="959.3" r="2.9"/><path d="M99.6,957.7V960.9M102.1,957.8L100.2,959.3L102.1,960.8"/>
<circle cx="238.8" cy="959.3" r="2.9"/><path d="M237.6,957.7V960.9M240.1,957.8L238.2,959.3L240.1,960.8"/>
<circle cx="165.5" cy="783.5" r="2.9"/><path d="M164.3,781.9V785.1M166.8,782L164.9,783.5L166.8,785"/>
</g>
<g fill="#333">
<circle cx="237" cy="806.5" r="0.7"/>
<circle cx="264.5" cy="834.5" r="0.7"/>
<circle cx="264.5" cy="868.3" r="0.7"/>
<circle cx="252" cy="896.5" r="0.7"/>
<circle cx="237" cy="896.5" r="0.7"/>
<circle cx="275.29" cy="806.5" r="0.7"/>
<circle cx="302.79" cy="834.5" r="0.7"/>
<circle cx="302.79" cy="868.3" r="0.7"/>
<circle cx="290.29" cy="896.5" r="0.7"/>
<circle cx="275.29" cy="896.5" r="0.7"/>
<circle cx="313.58" cy="806.5" r="0.7"/>
<circle cx="341.08" cy="834.5" r="0.7"/>
<circle cx="341.08" cy="868.3" r="0.7"/>
<circle cx="328.58" cy="896.5" r="0.7"/>
<circle cx="313.58" cy="896.5" r="0.7"/>
<circle cx="351.87" cy="806.5" r="0.7"/>
<circle cx="379.37" cy="834.5" r="0.7"/>
<circle cx="379.37" cy="868.3" r="0.7"/>
<circle cx="366.87" cy="896.5" r="0.7"/>
<circle cx="351.87" cy="896.5" r="0.7"/>
<circle cx="390.16" cy="806.5" r="0.7"/>
<circle cx="417.66" cy="834.5" r="0.7"/>
<circle cx="417.66" cy="868.3" r="0.7"/>
<circle cx="405.16" cy="896.5" r="0.7"/>
<circle cx="390.16" cy="896.5" r="0.7"/>
<circle cx="428.45" cy="806.5" r="0.7"/>
<circle cx="455.95" cy="834.5" r="0.7"/>
<circle cx="455.95" cy="868.3" r="0.7"/>
<circle cx="443.45" cy="896.5" r="0.7"/>
<circle cx="428.45" cy="896.5" r="0.7"/>
<circle cx="466.74" cy="806.5" r="0.7"/>
<circle cx="494.24" cy="834.5" r="0.7"/>
<circle cx="494.24" cy="868.3" r="0.7"/>
<circle cx="481.74" cy="896.5" r="0.7"/>
<circle cx="466.74" cy="896.5" r="0.7"/>
<circle cx="505.03" cy="806.5" r="0.7"/>
<circle cx="532.53" cy="834.5" r="0.7"/>
<circle cx="532.53" cy="868.3" r="0.7"/>
<circle cx="520.03" cy="896.5" r="0.7"/>
<circle cx="505.03" cy="896.5" r="0.7"/>
<circle cx="124" cy="807" r="0.7"/>
<circle cx="124" cy="883" r="0.7"/>
<circle cx="124" cy="907" r="0.7"/>
<circle cx="124" cy="932.5" r="0.7"/>
<circle cx="212" cy="935" r="0.7"/>
<circle cx="213.5" cy="945.5" r="0.7"/>
<circle cx="153" cy="885" r="0.7"/>
<circle cx="143" cy="825" r="0.7"/>
<circle cx="131" cy="845" r="0.7"/>
<circle cx="191" cy="864" r="0.7"/>
<circle cx="185" cy="895" r="0.7"/>
<circle cx="236" cy="888" r="0.7"/>
<circle cx="236" cy="908" r="0.7"/>
<circle cx="212" cy="907" r="0.7"/>
<circle cx="124" cy="947" r="0.7"/>
</g>
<g class="t">
<line x1="65.8" y1="776.9" x2="93.8" y2="776.9" class="g"/>
<line x1="65.8" y1="965.4" x2="93.8" y2="965.4"/>
<line x1="69.3" y1="776.9" x2="69.3" y2="965.4"/>
<line x1="93.8" y1="969.5" x2="550.6" y2="969.5" class="g"/>
<line x1="93.8" y1="965" x2="93.8" y2="971.5"/>
<line x1="125.5" y1="758.8" x2="207.5" y2="758.8" class="g"/>
<line x1="207.5" y1="758.8" x2="182.5" y2="783.8"/>
<line x1="326" y1="758.9" x2="408.8" y2="758.9" class="g"/>
<line x1="408.8" y1="758.9" x2="381.6" y2="837"/>
</g>
<circle cx="381.5" cy="838" r="1.1" fill="#000"/><circle cx="182.3" cy="784" r="0.9" fill="#000"/>
<g class="arw">
<polygon points="69.3,776.9 70.8,785.9 67.8,785.9" class="ar"/>
<polygon points="69.3,965.4 67.8,956.4 70.8,956.4" class="ar"/>
<polygon points="93.8,969.5 102.8,968 102.8,971" class="ar"/>
<polygon points="550.6,969.5 541.6,971 541.6,968" class="ar"/>
</g>
<g class="num">
<circle cx="134.3" cy="947.5" r="10.5"/>
<text x="134.6" y="953.7" text-anchor="middle">1</text>
<circle cx="133.8" cy="893.8" r="10.5"/>
<text x="134.1" y="900" text-anchor="middle">2</text>
<circle cx="156.3" cy="833.8" r="10.5"/>
<text x="156.6" y="840" text-anchor="middle">3</text>
<circle cx="214.3" cy="816.3" r="10.5"/>
<text x="214.6" y="822.5" text-anchor="middle">4</text>
<circle cx="257.5" cy="816.3" r="10.5"/>
<text x="257.8" y="822.5" text-anchor="middle">5</text>
<circle cx="296.3" cy="816.3" r="10.5"/>
<text x="296.6" y="822.5" text-anchor="middle">6</text>
<circle cx="333.8" cy="816.3" r="10.5"/>
<text x="334.1" y="822.5" text-anchor="middle">7</text>
<circle cx="372.5" cy="816.3" r="10.5"/>
<text x="372.8" y="822.5" text-anchor="middle">8</text>
<circle cx="409.3" cy="816.3" r="10.5"/>
<text x="409.6" y="822.5" text-anchor="middle">9</text>
<circle cx="446.8" cy="817" r="14"/>
<text x="447.1" y="823.2" text-anchor="middle">10</text>
<circle cx="485" cy="817" r="14"/>
<text x="485.3" y="823.2" text-anchor="middle">11</text>
<circle cx="531.3" cy="817" r="14"/>
<text x="531.6" y="823.2" text-anchor="middle">12</text>
</g>
<g class="dt">
<text class="lb" x="128" y="738" font-size="17" textLength="75.8" lengthAdjust="spacingAndGlyphs">Подпорка</text>
<text class="lb" x="154.5" y="754.6" font-size="17" textLength="26.8" lengthAdjust="spacingAndGlyphs">№1</text>
<text class="lb" x="329" y="738.6" font-size="17" textLength="74.2" lengthAdjust="spacingAndGlyphs">Подпорка</text>
<text class="lb" x="355.2" y="755.2" font-size="17" textLength="28.3" lengthAdjust="spacingAndGlyphs">№2</text>
<text x="377.5" y="966.2" font-size="17.3" textLength="34.5" lengthAdjust="spacingAndGlyphs">2740</text>
<text transform="translate(64.6,875) rotate(-90)" font-size="17.3" textLength="34" lengthAdjust="spacingAndGlyphs">1130</text>
</g>
</svg>
</body></html>
